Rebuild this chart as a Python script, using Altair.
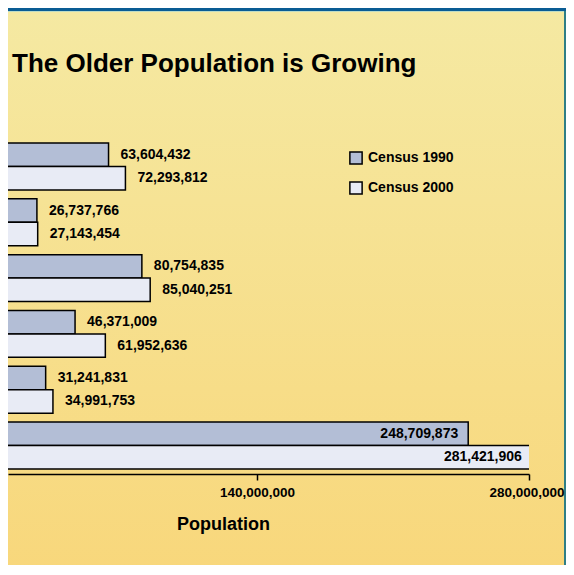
import altair as alt
import pandas as pd

categories = ["Under 18", "18 to 24", "25 to 44", "45 to 64", "65 and over", "Total"]
pop_1990 = [63604432, 26737766, 80754835, 46371009, 31241831, 248709873]
pop_2000 = [72293812, 27143454, 85040251, 61952636, 34991753, 281421906]
series = ["Census 1990", "Census 2000"]
tick_values = [140000000, 280000000]
title_text = "The Older Population is Growing"

rows = []
for c, a, b in zip(categories, pop_1990, pop_2000):
    rows.append({"group": c, "census": series[0], "value": a, "total": c == "Total"})
    rows.append({"group": c, "census": series[1], "value": b, "total": c == "Total"})
df = pd.DataFrame(rows)

FONT = "Liberation Sans"

W, H = 521, 336
x_scale = alt.Scale(domain=[11860000, 280000000], nice=False, zero=False)
y_scale = alt.Scale(domain=categories, paddingInner=0.16, paddingOuter=0.09)

one = pd.DataFrame({"t": [title_text]})

bg = alt.Chart(one).mark_rect(
    clip=False,
    fill=alt.LinearGradient(
        gradient="linear",
        stops=[alt.GradientStop(color="#F5E9A2", offset=0),
               alt.GradientStop(color="#F8D77B", offset=1)],
        x1=0, x2=0, y1=0, y2=1),
).encode(x=alt.value(-20), x2=alt.value(600), y=alt.value(-126), y2=alt.value(440))

band = alt.Chart(one).mark_rect(clip=False, fill="#0A5C94").encode(
    x=alt.value(-20), x2=alt.value(600), y=alt.value(-131), y2=alt.value(-127))
band_line = alt.Chart(one).mark_rect(clip=False, fill="#BFDCC4").encode(
    x=alt.value(-20), x2=alt.value(600), y=alt.value(-127), y2=alt.value(-126))
right_line = alt.Chart(one).mark_rect(clip=False, fill="#2F7E86").encode(
    x=alt.value(556), x2=alt.value(558), y=alt.value(-127), y2=alt.value(440))

title = alt.Chart(one).mark_text(
    align="left", baseline="alphabetic", font=FONT, fontSize=26,
    fontWeight="bold", color="black", clip=False,
).encode(text="t:N", x=alt.value(4), y=alt.value(-66))

bars = alt.Chart(df).mark_bar(
    clip=True, stroke="black", strokeWidth=1.5,
).encode(
    y=alt.Y("group:N", scale=y_scale, axis=None, sort=categories),
    yOffset=alt.YOffset("census:N", sort=series, scale=alt.Scale(paddingInner=0, paddingOuter=0)),
    x=alt.X("value:Q", scale=x_scale,
            axis=alt.Axis(values=tick_values, format=",d", title="Population",
                          titleX=215, titleY=55, titleBaseline="alphabetic",
                          titleAlign="center", zindex=2,
                          labelFlush=True, labelFlushOffset=35)),
    x2=alt.datum(0),
    fill=alt.Color("census:N", sort=series,
                   scale=alt.Scale(domain=series, range=["#B3BED6", "#E8EBF5"]),
                   legend=alt.Legend(title=None, orient="none", legendX=341, legendY=13,
                                     symbolType="square", symbolSize=150,
                                     symbolStrokeColor="black", symbolStrokeWidth=1.5,
                                     labelFont=FONT, labelFontSize=14, labelFontWeight="bold",
                                     labelColor="black", labelOffset=5, rowPadding=10,
                                     padding=0)),
)

lab_out = alt.Chart(df).transform_filter("!datum.total").mark_text(
    align="left", baseline="middle", dx=12, font=FONT, fontSize=14,
    fontWeight="bold", color="black",
).encode(
    y=alt.Y("group:N", scale=y_scale, axis=None, sort=categories),
    yOffset=alt.YOffset("census:N", sort=series),
    x=alt.X("value:Q", scale=x_scale),
    text=alt.Text("value:Q", format=",d"),
)

lab_in = alt.Chart(df).transform_filter("datum.total").mark_text(
    align="right", baseline="middle", dx=-10, font=FONT, fontSize=14,
    fontWeight="bold", color="black",
).encode(
    y=alt.Y("group:N", scale=y_scale, axis=None, sort=categories),
    yOffset=alt.YOffset("census:N", sort=series),
    x=alt.X("value:Q", scale=x_scale),
    text=alt.Text("value:Q", format=",d"),
)

chart = alt.layer(bg, band, band_line, right_line, title, bars, lab_out, lab_in).properties(
    width=W, height=H,
    padding={"left": 0, "top": 130, "right": 37, "bottom": 91},
    autosize=alt.AutoSizeParams(type="none"),
    background="#F5E9A2",
).configure_view(stroke=None).configure_axis(
    grid=False, domainColor="black", domainWidth=1.5, tickColor="black",
    tickWidth=1.5, tickSize=6, labelFont=FONT, labelFontSize=13.5,
    labelFontWeight="bold", labelColor="black", labelPadding=5,
    labelOverlap=False, labelBound=False,
    titleFont=FONT, titleFontSize=18, titleFontWeight="bold", titleColor="black",
)

chart.save("out.html", embed_options={"renderer": "svg", "actions": False})
